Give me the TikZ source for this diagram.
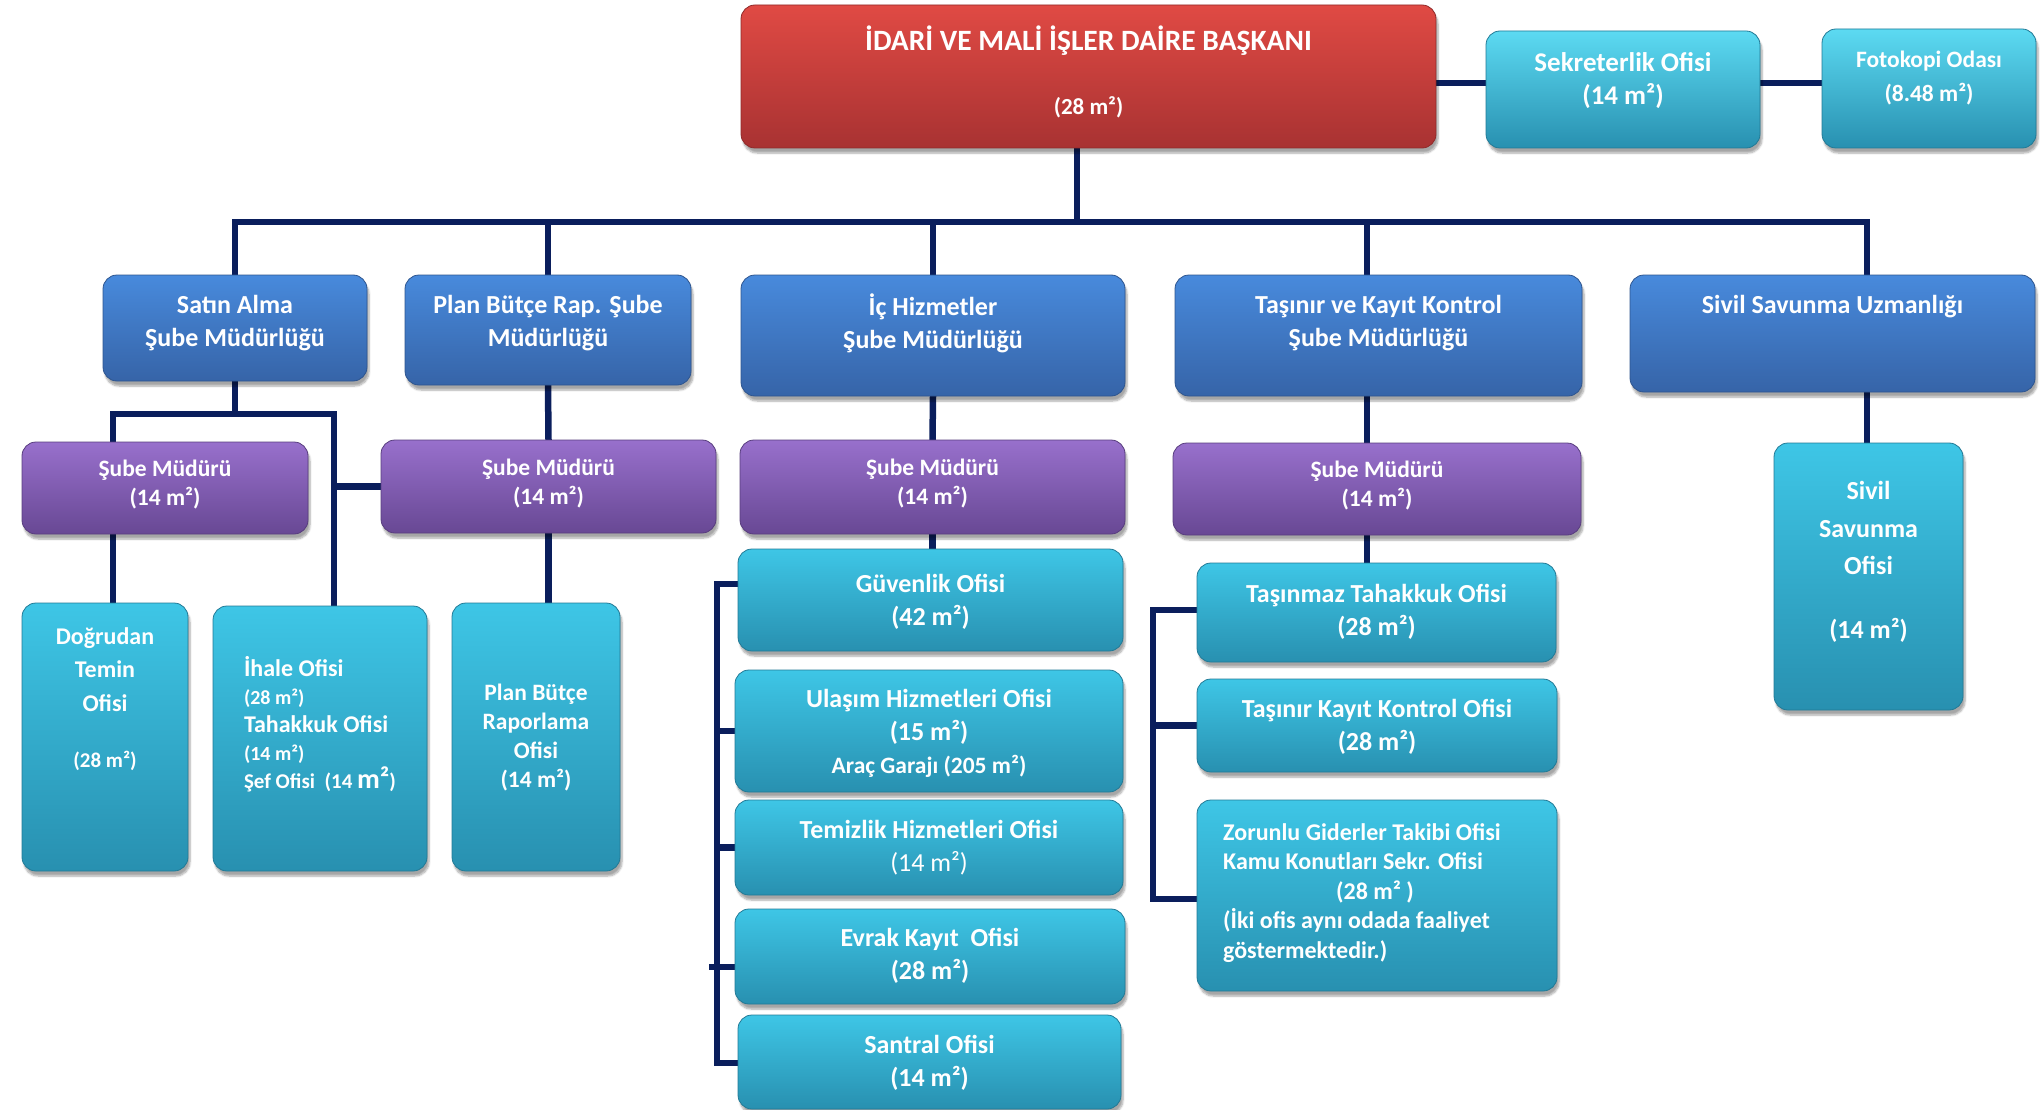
\documentclass[tikz,border=0pt]{standalone}
\usepackage{fontspec}
\setmainfont{Carlito}
\usetikzlibrary{shadows.blur,calc,backgrounds}
\definecolor{redT}{RGB}{224,74,68}
\definecolor{redB}{RGB}{168,50,50}
\definecolor{bluT}{RGB}{72,138,220}
\definecolor{bluB}{RGB}{54,100,168}
\definecolor{purT}{RGB}{152,112,204}
\definecolor{purB}{RGB}{104,72,148}
\definecolor{cyaT}{RGB}{62,198,230}
\definecolor{cyaL}{RGB}{92,218,242}
\definecolor{cyaB}{RGB}{40,144,176}
\definecolor{navy}{RGB}{10,30,92}
\tikzset{
  base/.style={rounded corners=14pt, inner sep=0pt, outer sep=0pt,
    blur shadow={shadow xshift=2pt, shadow yshift=-5pt, shadow blur steps=6, shadow opacity=35}},
  redbox/.style={base, top color=redT, bottom color=redB, draw=redB!85!black, line width=0.8pt},
  blubox/.style={base, top color=bluT, bottom color=bluB, draw=bluB!85!black, line width=0.8pt},
  purbox/.style={base, top color=purT, bottom color=purB, draw=purB!85!black, line width=0.8pt},
  cyabox/.style={base, top color=cyaT, bottom color=cyaB, draw=cyaB!85!black, line width=0.8pt},
  cyalbox/.style={base, top color=cyaL, bottom color=cyaB, draw=cyaB!85!black, line width=0.8pt},
  txt/.style={text=white, align=center, inner sep=0pt, font=\bfseries\fontsize{26}{33}\selectfont},
  conn/.style={draw=navy, line width=6.5pt},
}
\newcommand\bx[9]{%
  \node[#1, minimum width={#5-#3}, minimum height={#6-#4}] (#2) at ({(#3+#5)/2},{(#4+#6)/2}) {};
  \node[txt,#8] (#2t) at ({(#3+#5)/2},#7) {#9};}
\begin{document}
\begin{tikzpicture}[x=1pt,y=-1pt]
\useasboundingbox (0,0) rectangle (2042,1110);
\coordinate (busY) at (0,222);
\coordinate (busR) at (1867,222);
\coordinate (trunk) at (1077,222);
\coordinate (topY) at (0,83);
\coordinate (sA) at (113,414);
\coordinate (sB) at (334,414);
\coordinate (iX) at (717,0);
\coordinate (i1) at (717,584);
\coordinate (i4) at (709,967);
\coordinate (i5) at (717,1063);
\coordinate (tX) at (1153,0);
\coordinate (t1) at (1153,610);
\coordinate (t3) at (1153,899);
\coordinate (tV) at (1367,0);
% boxes
\bx{redbox}{red}{741}{5}{1436}{148}{72}{font=\bfseries\fontsize{29.5}{35}\selectfont}{İDARİ VE MALİ İŞLER DAİRE BAŞKANI\\[29pt]{\fontsize{23}{28}\selectfont (28 m²)}}
\bx{cyalbox}{sek}{1486}{31}{1760}{148}{81}{font=\bfseries\fontsize{27}{33}\selectfont}{Sekreterlik Ofisi\\(14 m²)}
\bx{cyalbox}{foto}{1822}{29}{2036}{148}{78}{font=\bfseries\fontsize{23.5}{34}\selectfont}{Fotokopi Odası\\(8.48 m²)}
\bx{blubox}{sat}{103}{275}{367}{381}{323}{}{Satın Alma\\Şube Müdürlüğü}
\bx{blubox}{plan}{405}{275}{691}{385}{323}{}{Plan Bütçe Rap. Şube\\Müdürlüğü}
\bx{blubox}{ic}{741}{275}{1125}{396}{323}{}{İç Hizmetler\\Şube Müdürlüğü}
\bx{blubox}{tas}{1175}{275}{1582}{396}{323}{}{Taşınır ve Kayıt Kontrol\\Şube Müdürlüğü}
\bx{blubox}{siv}{1630}{275}{2035}{392}{307}{}{Sivil Savunma Uzmanlığı}
\bx{purbox}{sma}{22}{442}{308}{534}{485}{font=\bfseries\fontsize{23.5}{29}\selectfont}{Şube Müdürü\\(14 m²)}
\bx{purbox}{smb}{381}{440}{716}{533}{484}{font=\bfseries\fontsize{23.5}{29}\selectfont}{Şube Müdürü\\(14 m²)}
\bx{purbox}{smc}{740}{440}{1125}{534}{484}{font=\bfseries\fontsize{23.5}{29}\selectfont}{Şube Müdürü\\(14 m²)}
\bx{purbox}{smd}{1173}{443}{1581}{535}{486}{font=\bfseries\fontsize{23.5}{29}\selectfont}{Şube Müdürü\\(14 m²)}
\bx{cyabox}{dog}{22}{603}{188}{871}{699}{font=\bfseries\fontsize{24}{33.5}\selectfont}{Doğrudan\\Temin\\Ofisi\\[23pt]{\fontsize{21}{26}\selectfont (28 m²)}}
\bx{cyabox}{ihale}{213}{606}{427}{871}{724}{align=left, font=\bfseries\fontsize{24}{28}\selectfont}{İhale Ofisi\\{\fontsize{20}{28}\selectfont (28 m²)}\\Tahakkuk Ofisi\\{\fontsize{20}{28}\selectfont (14 m²)}\\{\fontsize{21}{28}\selectfont Şef Ofisi \ (14 {\fontsize{28}{28}\selectfont m²})}}
\bx{cyabox}{pbr}{452}{603}{620}{871}{738}{font=\bfseries\fontsize{23.5}{29}\selectfont}{Plan Bütçe\\Raporlama\\Ofisi\\(14 m²)}
\bx{cyabox}{guv}{738}{549}{1123}{651}{602}{}{Güvenlik Ofisi\\(42 m²)}
\bx{cyabox}{ula}{735}{670}{1123}{792}{733}{}{Ulaşım Hizmetleri Ofisi\\(15 m²)\\{\fontsize{23.5}{32}\selectfont Araç Garajı (205 m²)}}
\bx{cyabox}{tem}{735}{800}{1123}{895}{848}{}{Temizlik Hizmetleri Ofisi\\{\mdseries (14 m²)}}
\bx{cyabox}{evr}{735}{909}{1125}{1004}{956}{}{Evrak Kayıt \ Ofisi\\(28 m²)}
\bx{cyabox}{san}{738}{1015}{1121}{1109}{1063}{}{Santral Ofisi\\(14 m²)}
\bx{cyabox}{tmz}{1197}{563}{1556}{662}{612}{}{Taşınmaz Tahakkuk Ofisi\\(28 m²)}
\bx{cyabox}{tkk}{1197}{679}{1557}{772}{727}{}{Taşınır Kayıt Kontrol Ofisi\\(28 m²)}
\node[cyabox, minimum width=360, minimum height=191] (zor) at (1377,895.5) {};
\node[txt, align=left, font=\bfseries\fontsize{24}{29.5}\selectfont] (zort) at (1362,893) {Zorunlu Giderler Takibi Ofisi\\Kamu Konutları Sekr. Ofisi\\\hspace*{113pt}(28 m² )\\(İki ofis aynı odada faaliyet\\göstermektedir.)};
\bx{cyabox}{sivo}{1774}{443}{1963}{710}{562}{font=\bfseries\fontsize{26}{37.5}\selectfont}{Sivil\\Savunma\\Ofisi\\[26pt](14 m²)}
% connectors
\begin{scope}[on background layer]
\draw[conn] (trunk |- red.south) -- (trunk);
\draw[conn] (sat.north) -- (sat.north |- busY) -- (busR) -- (busR |- siv.north);
\draw[conn] (plan.north) -- (plan.north |- busY);
\draw[conn] (ic.north) -- (ic.north |- busY);
\draw[conn] (tV |- tas.north) -- (tV |- busY);
\draw[conn] (red.east |- topY) -- (sek.west |- topY);
\draw[conn] (sek.east |- topY) -- (foto.west |- topY);
% Satin Alma
\draw[conn] (sat.south) -- (sat.south |- sA);
\draw[conn] (sA |- sma.north) -- (sA) -- (sB) -- (sB |- ihale.north);
\draw[conn] (sB |- smb.west) -- (smb.west);
\draw[conn] (sA |- sma.south) -- (sA |- dog.north);
% Plan Butce
\draw[conn] (plan.south) -- (smb.north);
\draw[conn] (smb.south) -- (smb.south |- pbr.north);
% Ic Hizmetler
\draw[conn] (ic.south) -- (smc.north);
\draw[conn] (smc.south) -- (smc.south |- guv.north);
\draw[conn] (i1 -| guv.west) -- (i1) -- (i5) -- (i5 -| san.west);
\draw[conn] (iX |- ula.west) -- (ula.west);
\draw[conn] (iX |- tem.west) -- (tem.west);
\draw[conn] (i4) -- (i4 -| evr.west);
% Tasinir
\draw[conn] (tV |- tas.south) -- (tV |- smd.north);
\draw[conn] (tV |- smd.south) -- (tV |- tmz.north);
\draw[conn] (t1 -| tmz.west) -- (t1) -- (t3) -- (t3 -| zor.west);
\draw[conn] (tX |- tkk.west) -- (tkk.west);
% Sivil
\draw[conn] (busR |- siv.south) -- (busR |- sivo.north);
\end{scope}
\end{tikzpicture}
\end{document}
